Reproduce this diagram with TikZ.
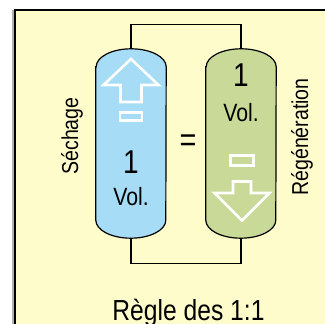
\documentclass[tikz,border=0pt]{standalone}
\usepackage{fontspec}
\setmainfont[FakeStretch=0.85]{Liberation Sans}
\usepackage{tikz}
\usetikzlibrary{positioning,calc}
\definecolor{FondJaune}{RGB}{255,252,204}
\definecolor{BleuSech}{RGB}{166,220,245}
\definecolor{VertRegen}{RGB}{200,217,152}

\begin{document}
\begin{tikzpicture}[x=1pt,y=1pt,
  vessel/.style={minimum width=70pt,minimum height=189pt,inner sep=0pt},
  pipe/.style={black,line width=1.2pt},
  hollow/.style={white,line width=2.6pt,line join=miter},
  lbl/.style={inner sep=0pt,font=\fontsize{23}{23}\selectfont},
  nombre/.style={inner sep=0pt,font=\fontsize{33}{33}\selectfont},
  vol/.style={inner sep=0pt,font=\fontsize{25}{25}\selectfont}]
  \clip (0,0) rectangle (325,324);
  % ---------- cadre ----------
  \draw[gray!60,line width=1.2pt] (13,-10) -- (13,314);
  \draw[fill=FondJaune,line width=2pt] (15,-10) rectangle (340,314);

  % ---------- colonnes ----------
  \node[vessel] (sech) at (131,180.5) {};
  \node[vessel] (regen) at (241,180.5) {};
  \foreach \n/\c in {sech/BleuSech,regen/VertRegen}
    \draw[fill=\c,line width=1.2pt]
      ([yshift=-18pt]\n.north west) -- ([yshift=18pt]\n.south west)
      arc[start angle=180,end angle=360,x radius=35,y radius=18]
      -- ([yshift=-18pt]\n.north east)
      arc[start angle=0,end angle=180,x radius=35,y radius=18] -- cycle;

  % conduites
  \draw[pipe] (sech.north) -- ++(0,24) -| (regen.north);
  \draw[pipe] (sech.south) -- ++(0,-25) -| (regen.south);

  % fleches creuses
  \begin{scope}[shift={(131,265)}]
    \draw[hollow] (0,0) -- (27.5,-26) -- (10.5,-26) -- (10.5,-43)
      -- (-10.5,-43) -- (-10.5,-26) -- (-27.5,-26) -- cycle;
    \draw[hollow] (-11,-53.5) rectangle (11,-61.5);
  \end{scope}
  \begin{scope}[shift={(242,103.5)}]
    \draw[hollow] (0,0) -- (27.5,27.5) -- (9,27.5) -- (9,39)
      -- (-9,39) -- (-9,27.5) -- (-27.5,27.5) -- cycle;
    \draw[hollow] (-11.5,55) rectangle (11.5,65);
  \end{scope}

  % ---------- textes ----------
  \node[lbl,rotate=90] (sechlbl) at (72,188) {Séchage};
  \node[lbl,rotate=90] (regenlbl) at (302,187) {Régénération};
  \node[inner sep=0pt,font=\fontsize{34}{34}\selectfont] (egal) at (188,181) {=};
  \node[nombre] (unsech) at (131,162) {1};
  \node[vol] (volsech) at (131,127) {Vol.};
  \node[nombre] (unregen) at (241,249) {1};
  \node[vol] (volregen) at (241,211) {Vol.};
  \node[anchor=base,inner sep=0pt,font=\fontsize{29}{29}\selectfont] (regle)
    at (188.5,3.5) {Règle des 1:1};
\end{tikzpicture}
\end{document}
